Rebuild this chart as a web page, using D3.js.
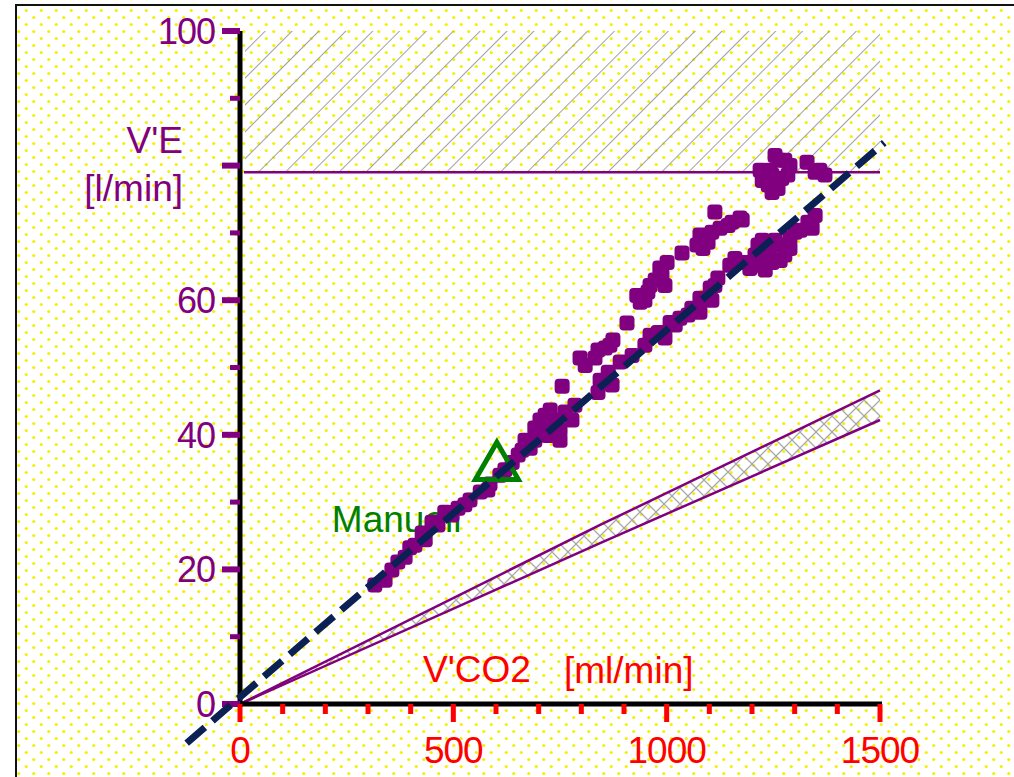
<!DOCTYPE html>
<html>
<head>
<meta charset="utf-8">
<script src="https://cdn.jsdelivr.net/npm/d3@7"></script>
<style>
  html, body { margin: 0; padding: 0; background: #ffffff; }
  svg { display: block; }
</style>
</head>
<body>
<div id="chart"></div>
<script>
// V'E over V'CO2 (l/min vs ml/min)
const xMajorTicks = [0, 500, 1000, 1500];
const xMinorTicks = [100, 200, 300, 400, 600, 700, 800, 900, 1100, 1200, 1300, 1400];
const yMajorTicks = [0, 20, 40, 60, 80, 100];
const yLabelTicks = [0, 20, 40, 60, 100]; // 80 is replaced by the axis title
const yMinorTicks = [10, 30, 50, 70, 90];

const veLimit = 79; // upper limit line, hatched above
const bandUpper = [[0, 0], [844, 26.6], [1500, 46.6]];
const bandLower = [[0, 0], [844, 23.9], [1500, 42.2]];
const trendLine = [[-125, -5.8], [1510, 83.4]];
const manualPoint = [602, 35.2];

// measured breaths [V'CO2 ml/min, V'E l/min]
const startTrack = [
  [316, 17.7], [340, 18.4], [356, 19.9], [370, 21.1], [387, 21.8], [398, 23.2],
  [410, 23.6], [434, 24.4], [427, 25.4], [464, 26.6], [450, 27.0], [497, 28.1],
  [480, 28.5], [511, 29.1], [527, 29.6], [539, 30.3], [563, 31.5], [581, 31.8],
  [586, 32.7], [609, 34.0], [621, 34.8], [638, 35.9], [652, 37.0], [661, 37.7],
  [680, 38.0], [668, 39.2], [691, 39.2], [722, 39.9], [691, 41.0], [715, 40.7],
  [750, 40.7], [715, 42.9], [738, 42.2], [778, 42.2], [762, 43.4], [785, 44.4],
  [727, 43.7], [703, 42.2], [750, 39.2], [755, 47.2]
];
const upperTrack = [
  [797, 51.4], [809, 50.3], [832, 51.4], [839, 52.6], [856, 52.9], [867, 53.3],
  [874, 54.1], [907, 56.6], [930, 60.7], [938, 59.7], [949, 60.0], [956, 61.2],
  [961, 62.2], [973, 63.0], [989, 63.7], [996, 62.2], [984, 64.8], [1001, 65.6],
  [1036, 67.0], [1071, 68.2], [1078, 69.7], [1085, 67.7], [1097, 68.6], [1106, 70.1],
  [1113, 73.1], [1125, 70.7], [1144, 71.1], [1153, 71.6], [1172, 72.2], [1177, 71.9]
];
const lowerTrack = [
  [839, 46.3], [844, 48.1], [872, 47.4], [863, 49.3], [891, 50.8], [919, 51.8],
  [949, 53.3], [961, 54.8], [980, 55.2], [996, 54.4], [1008, 56.7], [1020, 56.3],
  [1031, 57.3], [1050, 57.8], [1059, 58.8], [1078, 58.2], [1078, 60.3], [1106, 60.0],
  [1102, 61.8], [1113, 62.2], [1120, 63.3], [1148, 65.2], [1160, 66.2], [1184, 65.6],
  [1195, 64.7], [1207, 66.7], [1207, 65.6], [1219, 65.2], [1214, 68.2], [1224, 68.9],
  [1231, 64.5], [1231, 66.7], [1242, 67.4], [1247, 65.6], [1254, 68.9], [1266, 65.9],
  [1270, 68.2], [1277, 66.7], [1289, 67.7], [1289, 69.2], [1301, 70.1], [1313, 70.4],
  [1331, 71.6], [1341, 70.7], [1348, 72.6]
];
const topCluster = [
  [1219, 79.3], [1224, 77.8], [1242, 79.3], [1247, 78.6], [1254, 77.8], [1254, 81.5],
  [1266, 80.8], [1238, 77.1], [1247, 76.0], [1270, 78.1], [1261, 76.6], [1277, 80.8],
  [1284, 78.6], [1289, 80.0], [1329, 80.5], [1348, 79.0], [1359, 79.3], [1371, 78.6]
];

const width = 1014;
const height = 777;
const purple = "#800080";
const red = "#ff0000";
const fontFamily = "'Liberation Sans', Arial, sans-serif";

const svg = d3
  .select("#chart")
  .append("svg")
  .attr("width", width)
  .attr("height", height);

const x = d3.scaleLinear().domain([0, 1500]).range([240, 880]);
const y = d3.scaleLinear().domain([0, 100]).range([704, 31]);

// Patterns: yellow dot background, diagonal hatch, cross hatch
const defs = svg.append("defs");

const dots = defs
  .append("pattern")
  .attr("id", "dots")
  .attr("patternUnits", "userSpaceOnUse")
  .attr("width", 15)
  .attr("height", 14);
dots.append("rect").attr("width", 15).attr("height", 14).attr("fill", "#ffffff");
dots.append("circle").attr("cx", 3.75).attr("cy", 3.5).attr("r", 1.6).attr("fill", "#f5f000");
dots.append("circle").attr("cx", 11.25).attr("cy", 10.5).attr("r", 1.6).attr("fill", "#f5f000");

const hatch = defs
  .append("pattern")
  .attr("id", "hatch")
  .attr("patternUnits", "userSpaceOnUse")
  .attr("width", 19)
  .attr("height", 19)
  .attr("patternTransform", "rotate(45)");
hatch
  .append("line")
  .attr("x1", 0).attr("y1", 0).attr("x2", 0).attr("y2", 19)
  .attr("stroke", "#a0a0a0")
  .attr("stroke-width", 2);

const cross = defs
  .append("pattern")
  .attr("id", "cross")
  .attr("patternUnits", "userSpaceOnUse")
  .attr("width", 16)
  .attr("height", 16);
cross.append("path").attr("d", "M0,0L16,16M16,0L0,16")
  .attr("stroke", "#a8a8a8").attr("stroke-width", 1.3);

// Background and frame
svg.append("rect").attr("x", 16).attr("y", 5).attr("width", width).attr("height", height)
  .attr("fill", "url(#dots)");
svg.append("path")
  .attr("d", `M16,${height}V5H${width}`)
  .attr("fill", "none")
  .attr("stroke", "#111")
  .attr("stroke-width", 2);

// Hatched area above the limit
svg.append("rect")
  .attr("x", x(0) + 5)
  .attr("y", y(100))
  .attr("width", x(1500) - x(0) - 5)
  .attr("height", y(veLimit) - y(100))
  .attr("fill", "url(#hatch)");

svg.append("line")
  .attr("x1", x(0) + 4).attr("x2", x(1500))
  .attr("y1", y(veLimit)).attr("y2", y(veLimit))
  .attr("stroke", purple)
  .attr("stroke-width", 2.5);

// Band between two lines from the origin
const line = d3.line().x((d) => x(d[0])).y((d) => y(d[1]));
const bandArea = d3.area()
  .x((d) => x(d[0]))
  .y0((d, i) => y(bandLower[i][1]))
  .y1((d) => y(d[1]));
svg.append("path").datum(bandUpper).attr("d", bandArea).attr("fill", "url(#cross)");
[bandUpper, bandLower].forEach((pts) => {
  svg.append("path")
    .datum(pts)
    .attr("d", line)
    .attr("fill", "none")
    .attr("stroke", purple)
    .attr("stroke-width", 2.5);
});

// Manual marker label
svg.append("text")
  .attr("x", x(manualPoint[0]) - 165)
  .attr("y", y(manualPoint[1]) + 65)
  .attr("font-family", fontFamily)
  .attr("font-size", "37px")
  .attr("fill", "#008000")
  .text("Manuell");

// Breath points
const allPoints = startTrack.concat(upperTrack, lowerTrack, topCluster);
const size = 15;
svg.append("g")
  .selectAll("rect")
  .data(allPoints)
  .enter()
  .append("rect")
  .attr("x", (d) => x(d[0]) - size / 2)
  .attr("y", (d) => y(d[1]) - size / 2)
  .attr("width", size)
  .attr("height", size)
  .attr("rx", 4)
  .attr("fill", purple);

svg.append("path")
  .attr("transform", `translate(${x(manualPoint[0])},${y(manualPoint[1])})`)
  .attr("d", d3.symbol().type(d3.symbolTriangle).size(800)())
  .attr("fill", "none")
  .attr("stroke", "#008000")
  .attr("stroke-width", 5)
  .attr("stroke-linejoin", "miter");

// Axes
svg.append("line")
  .attr("x1", x(0)).attr("x2", x(0))
  .attr("y1", y(100)).attr("y2", y(0) + 3)
  .attr("stroke", "#000").attr("stroke-width", 5);
svg.append("line")
  .attr("x1", x(0)).attr("x2", x(1500) + 2)
  .attr("y1", y(0)).attr("y2", y(0))
  .attr("stroke", "#000").attr("stroke-width", 5);

// Y ticks (purple, to the left)
svg.append("g").selectAll("line").data(yMajorTicks).enter().append("line")
  .attr("x1", x(0) - 18).attr("x2", x(0))
  .attr("y1", (d) => y(d)).attr("y2", (d) => y(d))
  .attr("stroke", purple).attr("stroke-width", 6);
svg.append("g").selectAll("line").data(yMinorTicks).enter().append("line")
  .attr("x1", x(0) - 10).attr("x2", x(0))
  .attr("y1", (d) => y(d)).attr("y2", (d) => y(d))
  .attr("stroke", purple).attr("stroke-width", 5);

svg.append("g").selectAll("text").data(yLabelTicks).enter().append("text")
  .attr("x", x(0) - 25)
  .attr("y", (d) => y(d) + 13)
  .attr("text-anchor", "end")
  .attr("font-family", fontFamily)
  .attr("font-size", "36px")
  .attr("letter-spacing", "-1px")
  .attr("fill", purple)
  .text((d) => d);

// X ticks (red, below)
svg.append("g").selectAll("line").data(xMajorTicks).enter().append("line")
  .attr("x1", (d) => x(d)).attr("x2", (d) => x(d))
  .attr("y1", y(0)).attr("y2", y(0) + 18)
  .attr("stroke", red).attr("stroke-width", 5);
svg.append("g").selectAll("line").data(xMinorTicks).enter().append("line")
  .attr("x1", (d) => x(d)).attr("x2", (d) => x(d))
  .attr("y1", y(0)).attr("y2", y(0) + 10)
  .attr("stroke", red).attr("stroke-width", 5);

svg.append("g").selectAll("text").data(xMajorTicks).enter().append("text")
  .attr("x", (d) => x(d))
  .attr("y", y(0) + 59)
  .attr("text-anchor", "middle")
  .attr("font-family", fontFamily)
  .attr("font-size", "37px")
  .attr("letter-spacing", "-1px")
  .attr("fill", red)
  .text((d) => d);

// Axis titles
svg.append("text")
  .attr("x", 423).attr("y", 682)
  .attr("font-family", fontFamily).attr("font-size", "37px")
  .attr("fill", red)
  .text("V'CO2");
svg.append("text")
  .attr("x", 564).attr("y", 683)
  .attr("font-family", fontFamily).attr("font-size", "37px")
  .attr("fill", red)
  .text("[ml/min]");

svg.append("text")
  .attr("x", 183).attr("y", 153)
  .attr("text-anchor", "end")
  .attr("font-family", fontFamily).attr("font-size", "37px")
  .attr("fill", purple)
  .text("V'E");
svg.append("text")
  .attr("x", 183).attr("y", 201)
  .attr("text-anchor", "end")
  .attr("font-family", fontFamily).attr("font-size", "37px")
  .attr("fill", purple)
  .text("[l/min]");

// Dashed regression line on top
svg.append("path")
  .datum(trendLine)
  .attr("d", line)
  .attr("fill", "none")
  .attr("stroke", "#0b2154")
  .attr("stroke-width", 7)
  .attr("stroke-dasharray", "24,10");
</script>
</body>
</html>
